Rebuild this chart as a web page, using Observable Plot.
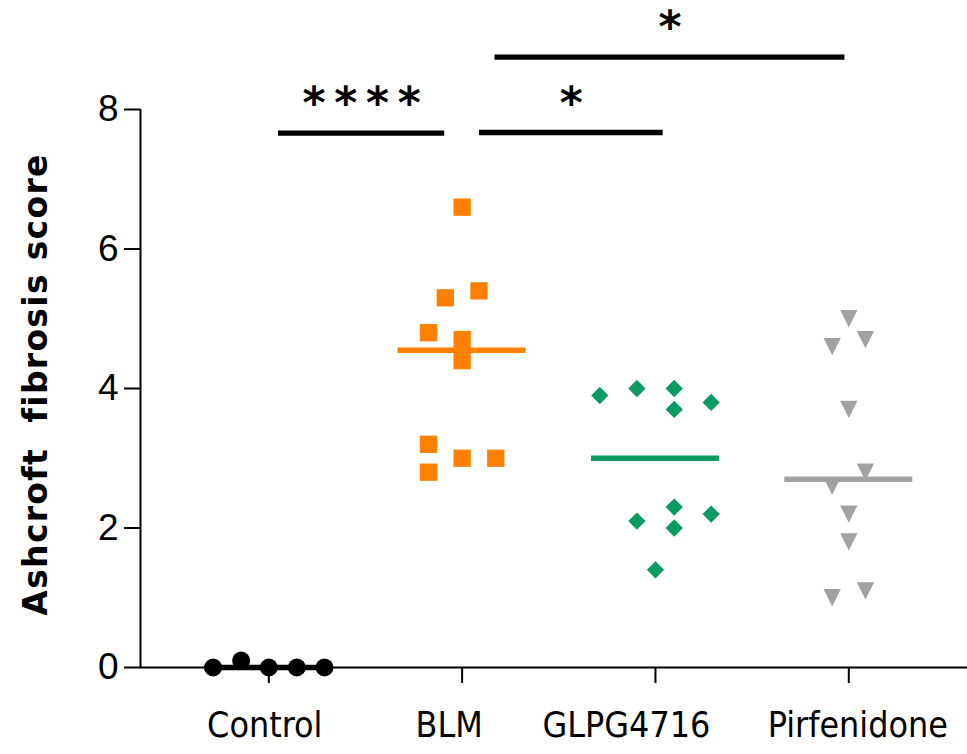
<!DOCTYPE html>
<html><head><meta charset="utf-8">
<script src="https://cdn.jsdelivr.net/npm/d3@7"></script>
<script src="https://cdn.jsdelivr.net/npm/@observablehq/plot@0.6"></script>
<style>body{margin:0;background:#fff}</style>
</head><body><div id="chart"></div>
<script>
// ---- data ----
const groups = ["Control", "BLM", "GLPG4716", "Pirfenidone"];
const groupColors = ["#000000", "#ff8000", "#0b9a61", "#a2a2a6"];

const controlScores = [0, 0.1, 0, 0, 0];
const controlJitter = [-0.288, -0.143, 0, 0.145, 0.288];

const blmScores = [6.6, 5.3, 5.4, 4.8, 4.7, 4.4, 3.2, 3.0, 3.0, 2.8];
const blmJitter = [0, -0.087, 0.087, -0.174, 0, 0, -0.174, 0, 0.174, -0.174];

const glpgScores = [3.9, 4.0, 4.0, 3.7, 3.8, 2.1, 2.3, 2.0, 2.2, 1.4];
const glpgJitter = [-0.288, -0.096, 0.097, 0.097, 0.288, -0.096, 0.097, 0.097, 0.288, 0];

const pirfScores = [5.0, 4.7, 4.6, 3.7, 2.8, 2.6, 2.2, 1.8, 1.1, 1.0];
const pirfJitter = [0, 0.086, -0.086, 0, 0.086, -0.086, 0, 0, 0.086, -0.086];

const yTicks = [0, 2, 4, 6, 8];
const yTitle = "Ashcroft  fibrosis score";

// significance brackets (group-index units)
const bracketStart = [0.05, 1.09, 1.17];
const bracketEnd = [0.91, 2.04, 2.98];
const bracketLevel = [7.66, 7.67, 8.75];
const bracketLabel = ["****", "*", "*"];

// ---- build tables ----
const scoreSets = [controlScores, blmScores, glpgScores, pirfScores];
const jitterSets = [controlJitter, blmJitter, glpgJitter, pirfJitter];
const points = [];
scoreSets.forEach((scores, gi) => scores.forEach((v, i) =>
  points.push({gi, group: groups[gi], score: v, jitter: jitterSets[gi][i]})));
const medians = groups.map((g, gi) => ({gi, group: g, median: d3.median(scoreSets[gi])}));
const brackets = bracketLabel.map((label, i) => ({label, start: bracketStart[i], end: bracketEnd[i], level: bracketLevel[i]}));

// ---- custom symbols ----
const squareSym = {draw(ctx, size) { const s = Math.sqrt(size) / 2; ctx.moveTo(-s, -s); ctx.lineTo(s, -s); ctx.lineTo(s, s); ctx.lineTo(-s, s); ctx.closePath(); }};
const diamondSym = {draw(ctx, size) { const s = Math.sqrt(size) / 2; ctx.moveTo(0, -s); ctx.lineTo(s, 0); ctx.lineTo(0, s); ctx.lineTo(-s, 0); ctx.closePath(); }};
const triDownSym = {draw(ctx, size) { const s = Math.sqrt(size) / 2; ctx.moveTo(-s, -s); ctx.lineTo(s, -s); ctx.lineTo(0, s); ctx.closePath(); }};
const symbols = ["circle", squareSym, diamondSym, triDownSym];
const symR = [9, 9.76, 9.76, 9.76];

const labelShift = [-4, -13, -29, 9];
const halfLine = 0.331;

const marks = [];
// axis lines
marks.push(Plot.ruleY([0], {stroke: "black", strokeWidth: 2}));
marks.push(Plot.ruleX([0], {x: () => -0.6636, y1: 0, y2: 8, stroke: "black", strokeWidth: 2}));
marks.push(Plot.axisY({ticks: yTicks, tickSize: 16, tickPadding: 6, fontSize: 37, fontFamily: "Liberation Sans, Arial, sans-serif", strokeWidth: 2, label: null}));
marks.push(Plot.axisX({ticks: [0, 1, 2, 3], tickSize: 16, strokeWidth: 2, tickFormat: () => "", label: null}));
groups.forEach((g, gi) => {
  marks.push(Plot.text([gi], {x: d => d, frameAnchor: "bottom", text: d => groups[d], dx: labelShift[gi], dy: 69,
    fontSize: 35.5, fontFamily: "DejaVu Sans Condensed, DejaVu Sans, sans-serif", fill: "black"}));
});
// points
groups.forEach((g, gi) => {
  marks.push(Plot.dot(points.filter(p => p.gi === gi), {
    x: d => d.gi + d.jitter, y: "score", symbol: () => symbols[gi], r: symR[gi],
    fill: groupColors[gi], stroke: "none"
  }));
});
// median lines
marks.push(Plot.ruleY(medians, {y: "median", x1: d => d.gi - halfLine, x2: d => d.gi + halfLine, stroke: "group", strokeWidth: 5.5}));
// brackets
marks.push(Plot.ruleY(brackets, {y: "level", x1: "start", x2: "end", stroke: "black", strokeWidth: 5.3}));
marks.push(Plot.text(brackets, {x: d => (d.start + d.end) / 2, y: "level", text: d => d.label.split("").join("\u2009"), dy: -29,
  fontSize: 44, fontWeight: "bold", fontFamily: "DejaVu Sans, sans-serif", fill: "black"}));
// y title
marks.push(Plot.text([yTitle], {frameAnchor: "left", textAnchor: "middle", text: d => d, rotate: -90, dx: -104, dy: -4,
  fontSize: 33, fontWeight: "bold", fontFamily: "DejaVu Sans, sans-serif", fill: "black"}));

const chart = Plot.plot({
  width: 967, height: 754,
  marginTop: 109, marginBottom: 87, marginLeft: 140, marginRight: 0,
  style: {background: "white", color: "black", overflow: "visible"},
  x: {type: "linear", domain: [-0.6636, 3.614]},
  y: {domain: [0, 8]},
  color: {domain: groups, range: groupColors},
  marks
});
d3.select(chart).selectAll("text").filter(function() { return this.textContent.includes("Ashcroft"); })
  .style("white-space", "pre").style("letter-spacing", "1.3px");
document.getElementById("chart").appendChild(chart);
</script>
</body></html>
